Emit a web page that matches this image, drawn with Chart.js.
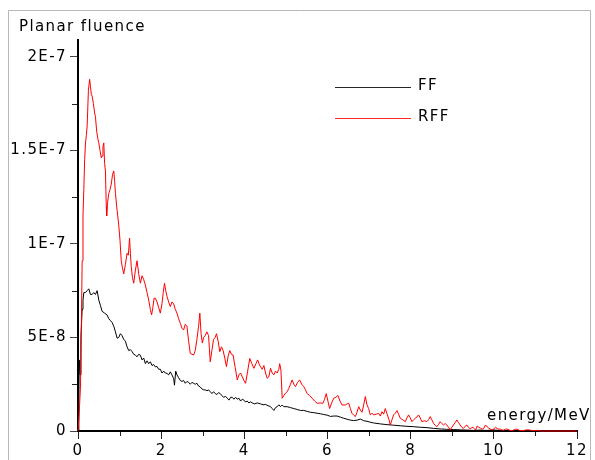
<!DOCTYPE html>
<html><head><meta charset="utf-8">
<script src="https://cdn.jsdelivr.net/npm/chart.js@4.4.0/dist/chart.umd.min.js"></script>
<style>html,body{margin:0;padding:0;background:#fff;}canvas{display:block;}</style>
</head><body>
<canvas id="c" width="595" height="460"></canvas>
<script>
// ---- text ----
const titleText = 'Planar fluence';
const xAxisTitle = 'energy/MeV';
const seriesNames = ['FF', 'RFF'];
const seriesColors = ['#000000', '#ff0000'];

// ---- ticks (y in units of 1E-8) ----
const xMajorTicks = [0, 2, 4, 6, 8, 10, 12];
const xMajorLabels = ['0', '2', '4', '6', '8', '10', '12'];
const xMinorTicks = [1, 3, 5, 7, 9, 11];
const yMajorTicks = [0, 5, 10, 15, 20];
const yMajorLabels = ['0', '5E-8', '1E-7', '1.5E-7', '2E-7'];
const yMinorTicks = [2.5, 7.5, 12.5, 17.5];

// ---- FF series: energy (MeV) and planar fluence (x 1E-8) ----
const ffEnergy = [0.00,0.02,0.03,0.05,0.07,0.10,0.12,0.14,0.18,0.22,0.26,0.30,0.34,0.38,0.42,0.46,0.50,0.54,0.58,0.64,
0.70,0.74,0.78,0.82,0.86,0.90,0.94,0.98,1.02,1.06,1.10,1.14,1.18,1.22,1.26,1.30,1.34,1.38,1.42,1.46,
1.50,1.54,1.58,1.62,1.66,1.70,1.74,1.78,1.82,1.86,1.90,1.94,1.98,2.02,2.06,2.10,2.14,2.18,2.22,2.26,
2.30,2.32,2.35,2.38,2.42,2.46,2.50,2.54,2.58,2.62,2.66,2.70,2.74,2.78,2.82,2.86,2.90,2.94,2.98,3.02,
3.06,3.10,3.14,3.18,3.22,3.26,3.30,3.34,3.38,3.42,3.46,3.50,3.55,3.59,3.63,3.67,3.71,3.75,3.79,3.83,
3.87,3.91,3.95,3.99,4.03,4.07,4.11,4.15,4.19,4.25,4.31,4.39,4.45,4.51,4.57,4.63,4.67,4.71,4.75,4.79,
4.83,4.87,4.91,4.95,5.03,5.11,5.19,5.27,5.35,5.43,5.51,5.59,5.67,5.75,5.83,5.91,5.99,6.07,6.15,6.23,
6.31,6.39,6.47,6.55,6.63,6.71,6.79,6.87,6.95,7.03,7.11,7.27,7.43,7.59,7.75,7.91,8.07,8.23,8.39,8.55,
8.71,8.87,9.03,9.19,9.35,9.51,9.67,9.83,9.99,10.15,10.30,10.50,10.70,11.00];
const ffFluence = [0,1.5,3.8,3.0,5.0,6.5,7.0,7.4,7.4,7.5,7.6,7.3,7.3,7.4,7.3,7.5,7.0,6.7,6.4,6.3,
6.2,6.0,5.9,5.8,5.6,5.3,4.96,5.0,5.2,5.1,4.9,4.8,4.5,4.3,4.35,4.25,4.1,4.05,3.97,4.1,
4.05,3.8,3.9,3.6,3.75,3.6,3.7,3.5,3.55,3.43,3.45,3.3,3.3,3.1,3.2,3.1,3.08,3.0,3.16,3.0,
2.8,2.45,3.2,3.0,2.85,2.7,2.65,2.7,2.55,2.65,2.6,2.5,2.6,2.55,2.5,2.55,2.4,2.35,2.25,2.2,
2.2,2.15,2.2,2.1,2.0,2.1,2.0,1.95,2.05,2.0,1.9,1.8,1.85,1.75,1.65,1.8,1.8,1.7,1.8,1.7,
1.75,1.6,1.7,1.65,1.55,1.6,1.5,1.56,1.5,1.45,1.5,1.45,1.4,1.42,1.35,1.3,1.2,1.1,1.25,1.3,
1.4,1.3,1.39,1.3,1.3,1.25,1.2,1.15,1.1,1.1,1.05,1.0,0.98,0.95,0.92,0.88,0.85,0.78,0.8,0.8,
0.74,0.68,0.63,0.58,0.56,0.58,0.64,0.55,0.52,0.47,0.43,0.38,0.34,0.31,0.28,0.25,0.23,0.2,0.18,0.14,
0.11,0.09,0.08,0.06,0.05,0.03,0.05,0.03,0.06,0.02,0.03,0.02,0.02,0.01];

// ---- RFF series: energy (MeV) and planar fluence (x 1E-8) ----
const rffEnergy = [0.00,0.03,0.06,0.08,0.10,0.12,0.14,0.16,0.18,0.20,0.22,0.25,0.28,0.30,0.32,0.34,0.37,0.40,0.42,0.45,
0.48,0.50,0.53,0.56,0.58,0.60,0.62,0.64,0.66,0.68,0.69,0.71,0.74,0.77,0.80,0.83,0.86,0.88,0.90,0.94,
0.98,1.01,1.04,1.07,1.10,1.14,1.18,1.21,1.24,1.26,1.28,1.31,1.34,1.38,1.42,1.46,1.50,1.54,1.58,1.62,
1.66,1.70,1.74,1.77,1.80,1.83,1.86,1.90,1.94,1.98,2.02,2.05,2.08,2.11,2.14,2.18,2.22,2.26,2.30,2.34,
2.38,2.42,2.46,2.50,2.54,2.58,2.62,2.66,2.70,2.74,2.78,2.82,2.86,2.90,2.93,2.96,2.99,3.02,3.06,3.10,
3.14,3.16,3.18,3.22,3.26,3.30,3.33,3.37,3.41,3.45,3.49,3.53,3.57,3.61,3.65,3.69,3.73,3.78,3.83,3.87,
3.91,3.95,3.99,4.03,4.08,4.13,4.18,4.23,4.28,4.32,4.37,4.43,4.47,4.51,4.55,4.59,4.63,4.67,4.71,4.75,
4.79,4.83,4.85,4.88,4.91,4.95,4.99,5.03,5.07,5.11,5.15,5.19,5.23,5.28,5.33,5.38,5.43,5.47,5.51,5.57,
5.63,5.69,5.75,5.82,5.89,5.93,5.97,6.01,6.05,6.10,6.15,6.20,6.25,6.30,6.35,6.43,6.47,6.51,6.55,6.59,
6.63,6.67,6.71,6.75,6.79,6.83,6.87,6.91,6.95,6.99,7.03,7.07,7.11,7.17,7.23,7.27,7.31,7.35,7.39,7.44,
7.48,7.51,7.55,7.59,7.63,7.67,7.71,7.75,7.81,7.87,7.91,7.95,7.99,8.03,8.07,8.11,8.15,8.19,8.23,8.27,
8.33,8.39,8.43,8.47,8.51,8.55,8.59,8.63,8.67,8.71,8.75,8.79,8.83,8.87,8.91,8.95,8.99,9.03,9.07,9.11,
9.15,9.19,9.23,9.27,9.31,9.35,9.39,9.43,9.47,9.50,9.53,9.56,9.60,9.64,9.68,9.72,9.76,9.80,9.84,9.88,
9.92,9.96,10.00,10.04,10.10,10.16,10.20,10.24,10.28,10.32,10.38,10.45,10.50,10.55,10.62,10.70,10.78,10.85,10.92,11.00,
11.05,11.10,12.00];
const rffFluence = [0,1.0,2.4,5.5,9.1,11.5,12.9,14.5,15.4,15.8,16.3,18.2,18.8,18.4,18.0,17.9,17.5,17.0,16.8,16.0,
15.6,15.4,15.0,14.6,14.7,15.2,15.4,14.3,13.9,12.0,11.5,12.2,12.7,12.9,13.2,13.7,13.9,13.4,12.7,11.8,
11.0,10.2,9.1,8.7,8.4,8.9,9.5,9.4,10.3,9.5,8.8,8.2,7.9,8.6,9.1,8.4,7.9,8.3,8.1,7.8,
7.4,7.0,6.5,6.2,6.6,7.1,7.1,6.9,6.6,6.3,6.8,7.4,7.9,7.5,7.2,6.9,6.65,6.9,6.8,6.5,
6.3,6.0,5.76,5.5,5.4,5.7,5.6,4.8,4.15,4.1,4.06,4.3,4.9,5.6,6.3,5.2,4.7,5.0,5.1,5.3,
5.1,4.4,3.7,4.3,4.9,5.0,5.2,4.8,4.24,4.5,4.3,3.9,3.44,4.0,4.3,4.1,4.06,3.4,2.73,3.0,
3.1,2.9,2.7,2.55,3.2,3.88,3.6,3.35,3.6,3.8,3.5,3.3,3.5,3.1,2.82,2.9,3.35,3.1,3.0,3.2,
3.1,3.3,3.6,3.26,1.75,1.9,2.02,2.1,2.28,2.5,2.73,2.5,2.37,2.6,2.73,2.5,2.37,2.2,2.0,1.9,
1.75,1.6,1.48,1.5,1.48,1.7,2.0,1.6,1.2,1.5,1.75,1.8,1.9,1.6,1.39,1.39,1.45,1.48,1.2,0.94,
0.85,0.77,1.0,1.3,1.12,1.0,1.39,1.84,1.39,1.2,0.86,0.95,0.86,0.9,0.94,0.8,1.03,0.9,1.2,0.86,
0.6,0.32,0.6,0.86,0.95,1.09,0.9,0.68,0.6,0.5,0.7,0.86,0.7,0.5,0.6,0.68,0.75,0.86,0.7,0.5,
0.55,0.5,0.6,0.77,0.6,0.41,0.3,0.23,0.35,0.5,0.4,0.32,0.4,0.32,0.2,0.05,0.2,0.32,0.45,0.59,
0.45,0.32,0.2,0.14,0.25,0.32,0.2,0.12,0.18,0.2,0.12,0.05,0.26,0.2,0.15,0.1,0.15,0.32,0.22,0.15,
0.1,0.05,0.12,0.2,0.1,0.1,0.05,0.05,0.1,0.1,0.04,0.02,0.08,0.1,0.03,0.02,0.06,0.06,0.02,0.02,
0.04,0,0];

const toPoints = (xs, ys) => xs.map((x, i) => ({ x: x, y: ys[i] }));

const FONT = '15px "DejaVu Sans"';
const SPACING = '1.4px';
const LAYOUT = { frameLeft: 8.5, frameTop: 10.5, frameRight: 590.5,
  titleX: 19, titleY: 31, xTitleX: 487, xTitleY: 419.5,
  legendLineX0: 335, legendLineX1: 411, legendTextX: 418, legendY0: 86.5, legendGap: 31 };

const decorations = {
  id: 'decorations',
  beforeDraw(chart) {
    const ctx = chart.ctx;
    ctx.save();
    ctx.fillStyle = '#fff';
    ctx.fillRect(0, 0, chart.width, chart.height);
    ctx.strokeStyle = '#b8b8b8';
    ctx.lineWidth = 1;
    ctx.beginPath();
    ctx.moveTo(LAYOUT.frameLeft, chart.height + 5);
    ctx.lineTo(LAYOUT.frameLeft, LAYOUT.frameTop);
    ctx.lineTo(LAYOUT.frameRight, LAYOUT.frameTop);
    ctx.lineTo(LAYOUT.frameRight, chart.height + 5);
    ctx.stroke();
    ctx.restore();
    ctx.letterSpacing = SPACING;
  },
  afterDraw(chart) {
    const ctx = chart.ctx;
    const xs = chart.scales.x, ys = chart.scales.y;
    ctx.save();
    // minor ticks
    ctx.strokeStyle = '#222';
    ctx.lineWidth = 1;
    ctx.beginPath();
    xMinorTicks.forEach(v => {
      const px = Math.round(xs.getPixelForValue(v)) + 0.5;
      ctx.moveTo(px, ys.bottom + 1); ctx.lineTo(px, ys.bottom + 5);
    });
    yMinorTicks.forEach(v => {
      const py = Math.round(ys.getPixelForValue(v)) + 0.5;
      ctx.moveTo(xs.left - 1, py); ctx.lineTo(xs.left - 6, py);
    });
    ctx.stroke();
    // texts
    ctx.letterSpacing = SPACING;
    ctx.font = FONT;
    ctx.fillStyle = '#000';
    ctx.textBaseline = 'alphabetic';
    ctx.textAlign = 'left';
    ctx.fillText(titleText, LAYOUT.titleX, LAYOUT.titleY);
    ctx.fillText(xAxisTitle, LAYOUT.xTitleX, LAYOUT.xTitleY);
    // legend
    chart.data.datasets.slice().sort((a, b) => seriesNames.indexOf(a.label) - seriesNames.indexOf(b.label))
      .forEach((ds, i) => {
        const y = LAYOUT.legendY0 + i * LAYOUT.legendGap;
        ctx.strokeStyle = ds.borderColor;
        ctx.globalAlpha = 0.85;
        ctx.beginPath();
        ctx.moveTo(LAYOUT.legendLineX0, Math.round(y) + 0.5);
        ctx.lineTo(LAYOUT.legendLineX1, Math.round(y) + 0.5);
        ctx.stroke();
        ctx.globalAlpha = 1;
        ctx.textBaseline = 'middle';
        ctx.fillText(ds.label, LAYOUT.legendTextX, y);
      });
    ctx.restore();
  }
};

Chart.defaults.font.family = '"DejaVu Sans"';
Chart.defaults.font.size = 15;
Chart.defaults.color = '#000';

new Chart(document.getElementById('c'), {
  type: 'line',
  data: {
    datasets: [
      { label: seriesNames[1], data: toPoints(rffEnergy, rffFluence), borderColor: seriesColors[1],
        borderWidth: 1, pointRadius: 0, tension: 0, fill: false, order: 0, clip: false },
      { label: seriesNames[0], data: toPoints(ffEnergy, ffFluence), borderColor: seriesColors[0],
        borderWidth: 1, pointRadius: 0, tension: 0, fill: false, order: 1, clip: false }
    ]
  },
  options: {
    responsive: false,
    animation: false,
    events: [],
    layout: { padding: { left: 0, right: 18, top: 40, bottom: 0 } },
    plugins: { legend: { display: false }, tooltip: { enabled: false }, title: { display: false } },
    scales: {
      x: {
        type: 'linear', min: 0, max: 12,
        afterBuildTicks: s => { s.ticks = xMajorTicks.map(v => ({ value: v })); },
        afterFit: s => { s.height = 29; },
        ticks: { autoSkip: false, maxRotation: 0, padding: 3, color: '#000',
                 callback: v => xMajorLabels[xMajorTicks.indexOf(v)] },
        grid: { drawOnChartArea: false, tickLength: 8, tickColor: '#222', tickWidth: 1 },
        border: { color: '#000', width: 2 }
      },
      y: {
        type: 'linear', min: 0, max: 20.9,
        afterBuildTicks: s => { s.ticks = yMajorTicks.map(v => ({ value: v })); },
        afterFit: s => { s.width = 78; },
        ticks: { autoSkip: false, padding: 3, color: '#000',
                 callback: v => yMajorLabels[yMajorTicks.indexOf(v)] },
        grid: { drawOnChartArea: false, tickLength: 8, tickColor: '#444', tickWidth: 1 },
        border: { color: '#000', width: 2 }
      }
    }
  },
  plugins: [decorations]
});
</script>
</body></html>
